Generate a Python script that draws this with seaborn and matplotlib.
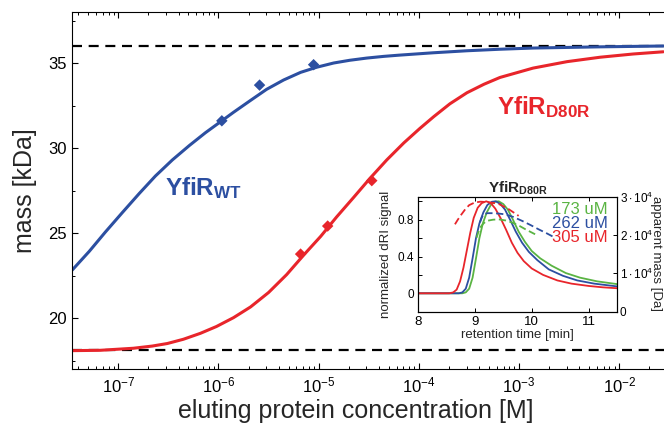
import matplotlib
matplotlib.use('Agg')
import matplotlib.pyplot as plt
import seaborn as sns
import numpy as np
from matplotlib.ticker import LogLocator, NullFormatter, MultipleLocator, FixedLocator, FixedFormatter

# main panel: fitted curves (log10 concentration [M], mass [kDa])
wt_logc = [-7.46, -7.29, -7.13, -6.96, -6.79, -6.63, -6.46, -6.29, -6.13, -5.99, -5.85, -5.68, -5.52,
           -5.35, -5.18, -5.02, -4.85, -4.69, -4.52, -4.35, -4.2, -3.86, -3.52, -3.19, -2.86, -2.2, -1.56]
wt_mass = [22.82, 23.92, 25.05, 26.2, 27.33, 28.35, 29.3, 30.15, 30.9, 31.5, 32.1, 32.8, 33.45,
           34.0, 34.45, 34.75, 35.0, 35.16, 35.29, 35.39, 35.46, 35.6, 35.72, 35.81, 35.88, 35.95, 36.0]
d80r_logc = [-7.46, -7.18, -6.85, -6.66, -6.51, -6.35, -6.18, -6.02, -5.85, -5.68, -5.5, -5.32, -5.15,
             -4.98, -4.82, -4.65, -4.49, -4.32, -4.15, -3.99, -3.85, -3.69, -3.52, -3.35, -3.19, -2.86,
             -2.52, -2.19, -1.86, -1.56]
d80r_mass = [18.08, 18.1, 18.22, 18.35, 18.5, 18.75, 19.1, 19.5, 20.02, 20.65, 21.5, 22.55, 23.7,
             24.8, 25.95, 27.1, 28.2, 29.3, 30.3, 31.15, 31.85, 32.6, 33.25, 33.75, 34.15, 34.7,
             35.08, 35.34, 35.53, 35.66]

# measured points
wt_pts_conc = [1.08e-6, 2.57e-6, 8.9e-6]
wt_pts_mass = [31.6, 33.7, 34.9]
d80r_pts_conc = [6.6e-6, 1.23e-5, 3.39e-5]
d80r_pts_mass = [23.76, 25.41, 28.08]

# monomer / dimer limits
mass_dimer = 36.0
mass_monomer = 18.1

# inset: normalized dRI traces (retention time [min], signal)
t_red = [8.0, 8.55, 8.62, 8.68, 8.74, 8.8, 8.86, 8.92, 8.98, 9.05, 9.12, 9.2, 9.28, 9.36, 9.45, 9.55,
         9.65, 9.75, 9.86, 10.0, 10.2, 10.45, 10.7, 11.0, 11.25, 11.5]
s_red = [0.0, 0.0, 0.01, 0.04, 0.13, 0.28, 0.47, 0.66, 0.82, 0.93, 0.98, 1.0, 0.98, 0.92, 0.82, 0.69,
         0.55, 0.44, 0.35, 0.27, 0.2, 0.14, 0.105, 0.08, 0.065, 0.055]
t_blue = [8.0, 8.72, 8.78, 8.84, 8.9, 8.96, 9.02, 9.08, 9.15, 9.22, 9.3, 9.37, 9.45, 9.53, 9.62, 9.72,
          9.83, 9.95, 10.1, 10.3, 10.55, 10.8, 11.1, 11.5]
s_blue = [0.0, 0.0, 0.01, 0.05, 0.17, 0.38, 0.6, 0.76, 0.88, 0.96, 0.995, 1.0, 0.97, 0.91, 0.8, 0.67,
          0.55, 0.45, 0.36, 0.26, 0.19, 0.14, 0.105, 0.075]
t_green = [8.0, 8.78, 8.84, 8.9, 8.96, 9.02, 9.08, 9.14, 9.21, 9.28, 9.35, 9.42, 9.5, 9.58, 9.67, 9.77,
           9.88, 10.0, 10.15, 10.35, 10.6, 10.85, 11.15, 11.5]
s_green = [0.0, 0.0, 0.01, 0.05, 0.17, 0.38, 0.6, 0.76, 0.88, 0.96, 0.995, 1.0, 0.97, 0.91, 0.8, 0.67,
           0.56, 0.46, 0.38, 0.3, 0.22, 0.17, 0.13, 0.1]

# inset: apparent mass traces [Da]
tm_red = [8.65, 8.7, 8.76, 8.83, 8.9, 9.0, 9.1, 9.21, 9.32, 9.42, 9.5, 9.59, 9.68, 9.77]
m_red = [22800, 24000, 25300, 26700, 27800, 28500, 28700, 28600, 28400, 28100, 27500, 26800, 25900, 25000]
tm_blue = [9.09, 9.12, 9.15, 9.22, 9.30, 9.42, 9.53, 9.68, 9.83, 9.98, 10.12, 10.27, 10.41]
m_blue = [23300, 24500, 25400, 25700, 25700, 25600, 25400, 24700, 23700, 22600, 21500, 20400, 19300]
tm_green = [9.03, 9.06, 9.09, 9.15, 9.21, 9.32, 9.42, 9.54, 9.65, 9.77, 9.89, 10.06]
m_green = [19300, 20700, 21900, 23000, 23700, 24000, 24100, 23800, 23300, 22500, 21500, 20200]

conc_labels = ["173 uM", "262 uM", "305 uM"]

BLUE = '#2c4fa1'
RED = '#e8252b'
GREEN = '#5ab443'

sns.set_style('ticks')
plt.rcParams['font.family'] = ['Liberation Sans', 'DejaVu Sans']
plt.rcParams['mathtext.fontset'] = 'custom'
plt.rcParams['mathtext.rm'] = 'Liberation Sans'
plt.rcParams['mathtext.it'] = 'Liberation Sans:italic'
plt.rcParams['mathtext.bf'] = 'Liberation Sans:bold'
plt.rcParams['xtick.direction'] = 'in'
plt.rcParams['ytick.direction'] = 'in'

fig = plt.figure(figsize=(6.64, 4.33), dpi=100)
ax = fig.add_axes([72/664, 1-369/433, 1-72/664, (369-12)/433])

ax.axhline(mass_dimer, color='black', lw=1.6, ls=(0, (4.5, 3)))
ax.axhline(mass_monomer, color='black', lw=1.6, ls=(0, (4.5, 3)))
sns.lineplot(x=np.power(10.0, wt_logc), y=wt_mass, ax=ax, color=BLUE, lw=2.2, estimator=None)
sns.lineplot(x=np.power(10.0, d80r_logc), y=d80r_mass, ax=ax, color=RED, lw=2.2, estimator=None)
sns.scatterplot(x=wt_pts_conc, y=wt_pts_mass, ax=ax, color=BLUE, marker='D', s=34, edgecolor='none', zorder=5)
sns.scatterplot(x=d80r_pts_conc, y=d80r_pts_mass, ax=ax, color=RED, marker='D', s=34, edgecolor='none', zorder=5)

ax.set_xscale('log')
ax.set_xlim(3.45e-8, 2.8e-2)
ax.set_ylim(17, 38)
ax.set_yticks([20, 25, 30, 35])
ax.yaxis.set_minor_locator(MultipleLocator(2.5))
ax.xaxis.set_major_locator(LogLocator(base=10, numticks=20))
ax.xaxis.set_minor_locator(LogLocator(base=10, subs=np.arange(2, 10), numticks=100))
ax.xaxis.set_minor_formatter(NullFormatter())
ax.tick_params(which='both', top=True, right=False, colors='black')
ax.tick_params(which='major', length=4, width=0.8)
ax.tick_params(which='minor', length=2.5, width=0.7)
ax.tick_params(axis='x', labelsize=12, pad=5)
ax.tick_params(axis='y', labelsize=12, pad=4)
ax.spines['right'].set_visible(False)
for s in ['left', 'bottom', 'top']:
    ax.spines[s].set_color('black')
    ax.spines[s].set_linewidth(0.8)
ax.set_xlabel('eluting protein concentration [M]', fontsize=18)
ax.set_ylabel('mass [kDa]', fontsize=18)
ax.xaxis.set_label_coords((356 - 72) / 592, -(399 - 369) / 357)
ax.yaxis.set_label_coords(-(72 - 37) / 592, 0.5)

fig.text(165/664, 1-195/433, r'$\mathbf{YfiR}_{\mathbf{WT}}$', color=BLUE, fontsize=17.5, va='baseline', ha='left')
fig.text(497/664, 1-114/433, r'$\mathbf{YfiR}_{\mathbf{D80R}}$', color=RED, fontsize=17.5, va='baseline', ha='left')

# inset
axi = fig.add_axes([418/664, 1-311.7/433, (617-418)/664, (311.7-196.7)/433])
sns.lineplot(x=t_green, y=s_green, ax=axi, color=GREEN, lw=1.3, estimator=None)
sns.lineplot(x=t_blue, y=s_blue, ax=axi, color=BLUE, lw=1.3, estimator=None)
sns.lineplot(x=t_red, y=s_red, ax=axi, color=RED, lw=1.3, estimator=None)
axi.set_xlim(8, 11.5)
axi.set_ylim(-0.2, 1.05)
axi.set_xticks([8, 9, 10, 11])
axi.yaxis.set_major_locator(FixedLocator([0, 0.4, 0.8]))
axi.yaxis.set_major_formatter(FixedFormatter(['0', '0.4', '0.8']))
axi.yaxis.set_minor_locator(FixedLocator([0.2, 0.6, 1.0]))
axi.tick_params(which='both', top=True, right=False, length=3, width=0.7, colors='black')
axi.tick_params(axis='x', labelsize=9.5, pad=3)
axi.tick_params(axis='y', labelsize=8.5, pad=3)
axi.set_xlabel('retention time [min]', fontsize=9.5, labelpad=1)
axi.set_ylabel('normalized dRI signal', fontsize=9.5, labelpad=4)
axi.set_title(r'$\mathbf{YfiR}_{\mathbf{D80R}}$', fontsize=11, pad=3)
for s in axi.spines.values():
    s.set_color('black')
    s.set_linewidth(0.8)

axr = axi.twinx()
sns.lineplot(x=tm_green, y=m_green, ax=axr, color=GREEN, lw=1.3, ls=(0, (4, 2)), estimator=None)
sns.lineplot(x=tm_blue, y=m_blue, ax=axr, color=BLUE, lw=1.3, ls=(0, (4, 2)), estimator=None)
sns.lineplot(x=tm_red, y=m_red, ax=axr, color=RED, lw=1.3, ls=(0, (4, 2)), estimator=None)
axr.set_ylim(0, 30000)
axr.yaxis.set_major_locator(FixedLocator([0, 10000, 20000, 30000]))
axr.yaxis.set_major_formatter(FixedFormatter(['0', r'$1\cdot10^4$', r'$2\cdot10^4$', r'$3\cdot10^4$']))
axr.tick_params(axis='y', labelsize=8.5, length=3, width=0.7, pad=2, colors='black')
axr.set_ylabel('')
for s in axr.spines.values():
    s.set_color('black')
    s.set_linewidth(0.8)
fig.text(656/664, 1-254/433, 'apparent mass [Da]', fontsize=9.5, rotation=270,
         ha='center', va='center')

label_colors = [GREEN, BLUE, RED]
label_base = [214, 227.7, 241.7]
for lab, col, yb in zip(conc_labels, label_colors, label_base):
    fig.text(608/664, 1-yb/433, lab, color=col, fontsize=12, ha='right', va='baseline')

fig.savefig('out.png', dpi=100)
